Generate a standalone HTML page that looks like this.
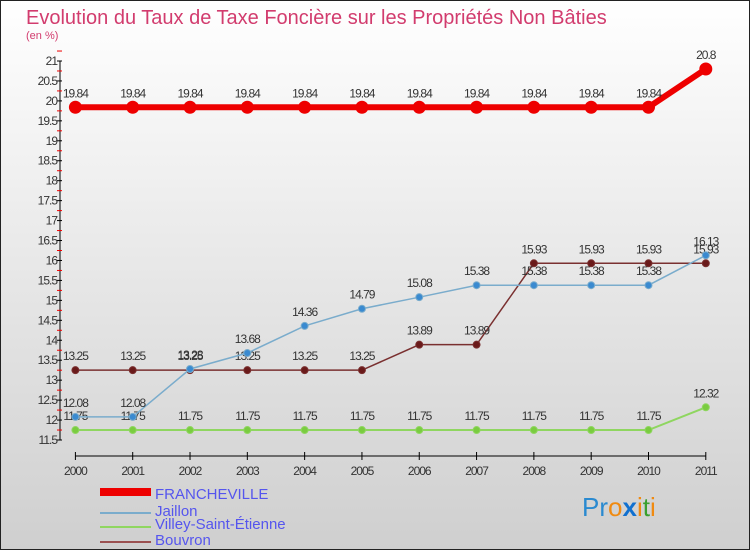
<!DOCTYPE html>
<html><head><meta charset="utf-8"><style>
body{margin:0}
#c{width:750px;height:550px;position:relative;font-family:"Liberation Sans",sans-serif;}
</style></head><body>
<div id="c">
<svg id="s" width="750" height="550" xmlns="http://www.w3.org/2000/svg">
<defs><linearGradient id="bg" x1="0" y1="0" x2="0" y2="1"><stop offset="0" stop-color="#ffffff"/><stop offset="1" stop-color="#cfcfcf"/></linearGradient></defs>
<rect x="0.5" y="0.5" width="749" height="549" fill="url(#bg)" stroke="#222"/>
<text x="26" y="24" font-size="20" fill="#d23c6e">Evolution du Taux de Taxe Foncière sur les Propriétés Non Bâties</text>
<text x="26" y="39" font-size="11" fill="#d23c6e">(en %)</text>
<g id="axes"></g><g id="series"></g>
<g font-size="15" fill="#5555ee">
<rect x="100" y="488" width="51" height="8" fill="#e00"/>
<text x="155" y="499">FRANCHEVILLE</text>
<rect x="100" y="512" width="51" height="2" fill="#7aaccc"/>
<text x="155" y="516">Jaillon</text>
<rect x="100" y="526" width="51" height="2" fill="#8fd660"/>
<text x="155" y="529">Villey-Saint-Étienne</text>
<rect x="100" y="541" width="51" height="2" fill="#9a5050"/>
<text x="155" y="545">Bouvron</text>
</g>
<g font-size="26" font-family="Liberation Sans,sans-serif">
<text x="582" y="516"><tspan fill="#2a8ad0">Pr</tspan><tspan fill="#f08a10">o</tspan><tspan fill="#1070d0" font-weight="bold">x</tspan><tspan fill="#f08a10">i</tspan><tspan fill="#3aa030">t</tspan><tspan fill="#f08a10">i</tspan></text>
</g>
</svg>
</div>
<script>
const years=[2000,2001,2002,2003,2004,2005,2006,2007,2008,2009,2010,2011];
const yTicks=[11.5,12,12.5,13,13.5,14,14.5,15,15.5,16,16.5,17,17.5,18,18.5,19,19.5,20,20.5,21];
const francheville=[19.84,19.84,19.84,19.84,19.84,19.84,19.84,19.84,19.84,19.84,19.84,20.8];
const jaillon=[12.08,12.08,13.28,13.68,14.36,14.79,15.08,15.38,15.38,15.38,15.38,16.13];
const villey=[11.75,11.75,11.75,11.75,11.75,11.75,11.75,11.75,11.75,11.75,11.75,12.32];
const bouvron=[13.25,13.25,13.25,13.25,13.25,13.25,13.89,13.89,15.93,15.93,15.93,15.93];
const NS='http://www.w3.org/2000/svg';
const X=i=>75.4+i*(705.8-75.4)/11;
const Y=v=>440-(v-11.5)*(379/9.5);
function mk(t,a,p){const e=document.createElementNS(NS,t);for(const k in a)e.setAttribute(k,a[k]);p.appendChild(e);return e;}
const ax=document.getElementById('axes');
const yl=mk('line',{x1:60,y1:Y(21),x2:60,y2:Y(11.5),stroke:'#000'},ax);


yTicks.forEach(v=>{
 const t=mk('line',{x1:57,x2:62,y1:Y(v),y2:Y(v),stroke:'#000'},ax);
 
 
 const m=mk('line',{x1:57,x2:62,y1:Y(v+0.25),y2:Y(v+0.25),stroke:'#e00'},ax);
 
 
 const l=mk('text',{x:57,y:Y(v)+4,'font-size':12,'text-anchor':'end',fill:'#333','letter-spacing':'-1'},ax);
 l.textContent=String(v);
 
 
});
const xl=mk('line',{x1:X(0),x2:X(11),y1:456,y2:456,stroke:'#000'},ax);


years.forEach((y,i)=>{
 const t=mk('line',{x1:X(i),x2:X(i),y1:452,y2:460,stroke:'#000'},ax);
 
 
 const l=mk('text',{x:X(i),y:475,'font-size':12,'text-anchor':'middle',fill:'#333','letter-spacing':'-1'},ax);
 l.textContent=y;
 
 
});
const sg=document.getElementById('series');
function series(name,vals,col,w,r,dot){
 const g=mk('g',{},sg);
 
 
 const p=mk('polyline',{points:vals.map((v,i)=>X(i)+','+Y(v)).join(' '),fill:'none',stroke:col,'stroke-width':w},g);
 
 
 vals.forEach((v,i)=>{
  const c=mk('circle',{cx:X(i),cy:Y(v),r:r,fill:dot,stroke:col,'stroke-width':1},g);
  
  
  const t=mk('text',{x:X(i),y:Y(v)-10,'font-size':12,'text-anchor':'middle',fill:'#333','letter-spacing':'-1'},g);
  t.textContent=String(v);
  
  
 });
}
series('villey',villey,'#8fd660',2,3.5,'#7acc40');
series('bouvron',bouvron,'#7a3030',1.5,3.5,'#6a1a1a');
series('jaillon',jaillon,'#7aaccc',1.5,3.5,'#3a8ad0');
series('francheville',francheville,'#e00',6,6,'#e00');
</script>
</body></html>
